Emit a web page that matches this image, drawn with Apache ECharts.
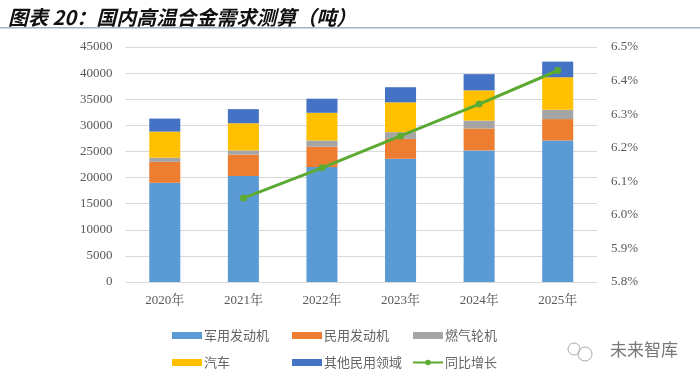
<!DOCTYPE html>
<html><head><meta charset="utf-8">
<script src="https://cdn.jsdelivr.net/npm/echarts@6/dist/echarts.min.js"></script>
<style>html,body{margin:0;padding:0;background:#fff}#c{width:700px;height:378px}</style>
</head><body><div id="c"></div>
<script>
const categories = ['2020年','2021年','2022年','2023年','2024年','2025年'];
const military = [19000, 20300, 22000, 23600, 25200, 27100];
const civilEngine = [4000, 4100, 3900, 3800, 4200, 4100];
const gasTurbine = [800, 800, 1200, 1300, 1500, 1800];
const auto = [5000, 5200, 5300, 5700, 5800, 6200];
const otherCivil = [2500, 2700, 2700, 2900, 3100, 3000];
const growth = [null, 6.05, 6.14, 6.235, 6.33, 6.43];
const names = ['军用发动机','民用发动机','燃气轮机','汽车','其他民用领域','同比增长'];
const colors = ['#5B9BD5','#ED7D31','#A5A5A5','#FFC000','#4472C4','#5DAA32'];

const font = "'Liberation Serif','Noto Serif CJK SC','Noto Sans CJK SC',serif";
const chart = echarts.init(document.getElementById('c'));
const barSeries = [military, civilEngine, gasTurbine, auto, otherCivil].map((d,i)=>({
  name: names[i], type:'bar', stack:'t', data:d, barWidth:'39.5%',
  itemStyle:{color:colors[i]}
}));
const legendPos = [[172,329],[292,329],[413,329],[172,356],[292,356],[412,356]];
chart.setOption({
  animation:false,
  backgroundColor:'#fff',
  title:{text:'图表 20：国内高温合金需求测算（吨）', left:3, top:2,
    textStyle:{fontSize:20, fontWeight:'bold', fontStyle:'italic', color:'#111', fontFamily:"'Noto Sans CJK SC'"}},
  graphic:[
    {type:'rect', shape:{x:0,y:27,width:700,height:1.5}, style:{fill:'#9fb6bd'}},
    {type:'text', left:610, top:341, style:{text:'未来智库', fontSize:17, fill:'#777', fontFamily:"'Noto Sans CJK SC'"}},
    {type:'circle', shape:{cx:574, cy:349, r:6}, style:{fill:'none', stroke:'#aaa', lineWidth:1}},
    {type:'circle', shape:{cx:585, cy:354, r:7}, style:{fill:'none', stroke:'#aaa', lineWidth:1}}
  ],
  legend: names.map((n,i)=>({
    data:[i<5 ? {name:n, icon:'rect'} : n], left:legendPos[i][0], top:legendPos[i][1], itemWidth:30, itemHeight:7, itemGap:2,
    padding:0, selectedMode:false,
    textStyle:{fontSize:13, color:'#666', fontFamily:"'Noto Sans CJK SC'", padding:[0,0,0,-3]}
  })),
  grid:{left:125.5, right:103, top:47, bottom:96, containLabel:false},
  xAxis:{type:'category', data:categories,
    axisLine:{show:false}, axisTick:{show:false},
    axisLabel:{fontSize:13, color:'#595959', fontFamily:font, margin:12}},
  yAxis:[
    {type:'value', min:0, max:45000, interval:5000,
      axisLine:{show:false}, axisTick:{show:false},
      splitLine:{lineStyle:{color:'#d9d9d9'}},
      axisLabel:{fontSize:13, color:'#595959', fontFamily:font, margin:13, formatter:v=>String(v)}},
    {type:'value', min:5.8, max:6.5, interval:0.1, position:'right',
      axisLine:{show:false}, axisTick:{show:false}, splitLine:{show:false},
      axisLabel:{fontSize:13, color:'#595959', fontFamily:font, margin:14,
        formatter:v=>v.toFixed(1)+'%'}}
  ],
  series:[...barSeries,
    {name:names[5], type:'line', yAxisIndex:1, data:growth, symbol:'circle', symbolSize:7,
      lineStyle:{color:colors[5], width:3}, itemStyle:{color:colors[5]}}]
});
</script></body></html>
